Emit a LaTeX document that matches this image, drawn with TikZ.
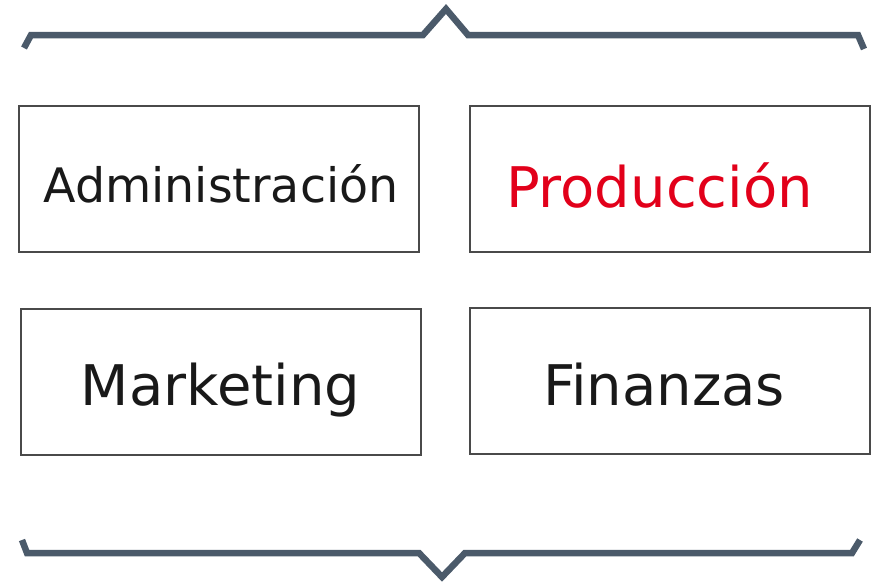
\documentclass[tikz,border=0pt]{standalone}
\usepackage{fontspec}
\setmainfont{DejaVu Sans}
\usepackage{tikz}
\usetikzlibrary{positioning,calc}
\definecolor{brgray}{HTML}{4B5A6A}
\definecolor{bxgray}{HTML}{4A4A4A}
\definecolor{prred}{HTML}{E2001A}

\begin{document}
\begin{tikzpicture}[
    x=1pt,
    y=-1pt,
    area/.style={rectangle, draw=bxgray, line width=2pt, minimum width=400pt, minimum height=146pt, inner sep=0pt},
    brace/.style={draw=brgray, line width=6.5pt, line join=miter, line cap=butt},
    big/.style={anchor=base, inner sep=0pt, text=black!90, font=\fontsize{56}{60}\selectfont},
    small/.style={anchor=base, inner sep=0pt, text=black!90, font=\fontsize{47.5}{50}\selectfont}
  ]
    \useasboundingbox (0,0) rectangle (878,582);

    % upper and lower braces
    \draw[brace] (24,48) -- (31,35) -- (423,35) -- (446,9) -- (468,35) -- (858,35) -- (864,49);
    \draw[brace] (22,540) -- (27,553) -- (419,553) -- (442,577) -- (465,553) -- (852,553) -- (860,540);

    % the four areas
    \node[area] (admin) at (219,178.5) {};
    \node[area] (prod) at (670,178.5) {};
    \node[area] (mkt) at (220.5,381.5) {};
    \node[area] (fin) at (669.5,381) {};

    % their names
    \node[small] (adminlbl) at ($(admin.center)+(2,23.5)$) {Administración};
    \node[big, text=prred] (prodlbl) at ($(prod.center)+(-10.5,28.5)$) {Producción};
    \node[big] (mktlbl) at ($(mkt.center)+(0,23.5)$) {Marketing};
    \node[big] (finlbl) at ($(fin.center)+(-5.5,24)$) {Finanzas};
  \end{tikzpicture}
\end{document}
